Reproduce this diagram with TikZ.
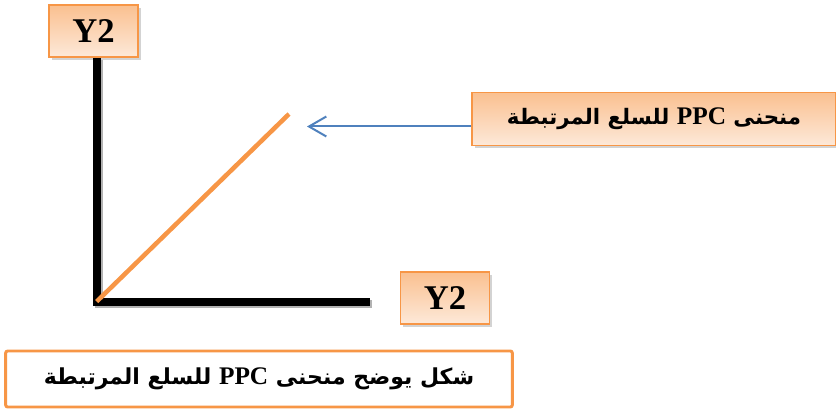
\documentclass[tikz,border=0pt]{standalone}
\usepackage{fontspec}
\usetikzlibrary{arrows.meta,shadows}
\TeXXeTstate=1
\newfontfamily\arabicfont[Script=Arabic]{DejaVu Sans}
\newfontfamily\latinfont{Liberation Serif}
\definecolor{boxorange}{HTML}{F79646}
\definecolor{boxtop}{HTML}{FAC090}
\definecolor{boxbottom}{HTML}{FDE9D9}
\definecolor{arrowblue}{HTML}{4F81BD}

\begin{document}
\begin{tikzpicture}[x=0.75pt, y=-0.75pt,
        label/.style = {draw=boxorange, line width=1.2pt, top color=boxtop, bottom color=boxbottom, drop shadow={opacity=0.35, shadow xshift=2pt, shadow yshift=-2pt}, inner sep=0pt, align=center},
        axis/.style = {line width=6pt, black},
        ppc/.style = {line width=3.4pt, boxorange},
        pointer/.style = {line width=1.5pt, arrowblue, -{Straight Barb[length=13pt, width=15pt, line width=1.5pt]}} ]
        \useasboundingbox (0,0) rectangle (836,410);

        \node[label, minimum width=67pt, minimum height=39pt] (ytop) at (93.5,31) {\latinfont\bfseries\fontsize{26}{26}\selectfont Y2};
        \node[label, minimum width=67pt, minimum height=39pt] (xlab) at (445,298) {\latinfont\bfseries\fontsize{26}{26}\selectfont Y2};
        \node[label, minimum width=273pt, minimum height=40pt] (curve) at (654,119) {\arabicfont\bfseries\fontsize{16}{16}\selectfont\beginR منحنى \beginL{\latinfont\fontsize{19}{19}\selectfont PPC}\endL{} للسلع المرتبطة\endR};
        \node[draw=boxorange, line width=2.2pt, rounded corners=1.5pt, fill=white, minimum width=380pt, minimum height=42pt, inner sep=0pt] (caption) at (259,379) {\arabicfont\bfseries\fontsize{16.5}{16.5}\selectfont\beginR شكل يوضح منحنى \beginL{\latinfont\fontsize{19}{19}\selectfont PPC}\endL{} للسلع المرتبطة\endR};

        \coordinate (o) at (96.7,301.5);
        \coordinate (xend) at (370,301.5);
        \coordinate (top) at (289,114);
        \coordinate (ptr) at (307,126.5);

        % axes with a soft shadow
        \draw[axis, black!30, transform canvas={xshift=1.5pt, yshift=-1.5pt}] (ytop.south -| o) -- (o) -- (xend);
        \draw[axis] (ytop.south -| o) -- (o) -- (xend);
        \draw[ppc] (o) -- (top);
        \draw[pointer] (curve.west |- ptr) -- (ptr);

    \end{tikzpicture}
\end{document}
